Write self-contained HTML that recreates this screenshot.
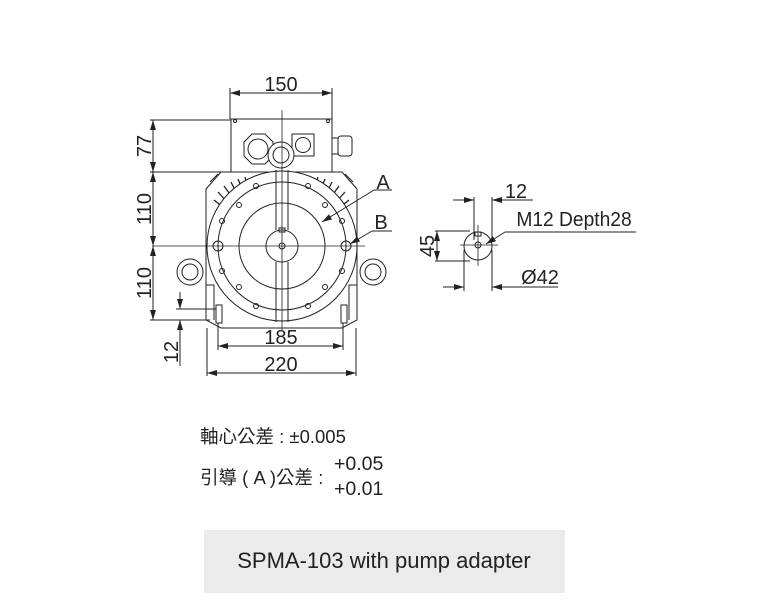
<!DOCTYPE html>
<html><head><meta charset="utf-8"><style>
html,body{margin:0;padding:0;background:#fff;width:768px;height:611px;overflow:hidden}
svg{display:block}
text{font-family:"Liberation Sans","Noto Sans CJK TC",sans-serif;fill:#222}
</style></head><body>
<svg width="768" height="611" viewBox="0 0 768 611" xmlns="http://www.w3.org/2000/svg">
<defs>
<marker id="ar" viewBox="0 0 10 6" refX="10" refY="3" markerWidth="10" markerHeight="6" orient="auto-start-reverse" markerUnits="userSpaceOnUse"><path d="M0,0 L10,3 L0,6 z" fill="#222"/></marker>
</defs>
<g stroke="#222" stroke-width="1" fill="none">
<rect x="231" y="119" width="101" height="53"/>
<circle cx="235" cy="121" r="1.5"/><circle cx="328" cy="121" r="1.5"/>
<polygon points="252,134 265,134 273,142 273,156 265,164 252,164 244,156 244,142" fill="#fff"/>
<circle cx="258" cy="149" r="10"/>
<rect x="292" y="134" width="22" height="22"/>
<circle cx="303" cy="145" r="7.5"/>
<rect x="332" y="138" width="6" height="16"/><rect x="338" y="136" width="14" height="20" rx="3"/>
<path d="M221,172 L342,172 L357,189 L357,320 L342,328 L221,328 L206,320 L206,189 Z" fill="#fff"/>
<path d="M210,182 L218,174 M353,182 L345,174"/>
<g stroke-width="1.3">
<path d="M214,200 l10,8 M218,192 l9,10 M224,186 l8,11 M231,182 l6,12 M238,179 l5,12 M245,177 l3,11"/>
<path d="M349,200 l-10,8 M345,192 l-9,10 M339,186 l-8,11 M332,182 l-6,12 M325,179 l-5,12 M318,177 l-3,11"/>
</g>
<path d="M206,285 L214,285 L214,320 M357,285 L349,285 L349,320"/>
<rect x="216" y="305" width="6" height="18"/><rect x="341" y="305" width="6" height="18"/>
<circle cx="190" cy="272" r="13" fill="#fff"/><circle cx="190" cy="272" r="8"/>
<circle cx="373" cy="272" r="13" fill="#fff"/><circle cx="373" cy="272" r="8"/>
<circle cx="282" cy="246" r="75" fill="#fff"/>
<circle cx="282" cy="246" r="64"/>
<circle cx="282" cy="246" r="43"/>
<circle cx="282" cy="246" r="16"/>
<circle cx="282" cy="246" r="3"/>
<rect x="279" y="228" width="6" height="4"/>
<circle cx="218" cy="246" r="5"/><circle cx="346" cy="246" r="5"/>
<g>
<circle cx="256" cy="186" r="2.5"/><circle cx="308" cy="186" r="2.5"/>
<circle cx="239" cy="205" r="2.5"/><circle cx="325" cy="205" r="2.5"/>
<circle cx="222" cy="221" r="2.5"/><circle cx="342" cy="221" r="2.5"/>
<circle cx="222" cy="271" r="2.5"/><circle cx="342" cy="271" r="2.5"/>
<circle cx="239" cy="287" r="2.5"/><circle cx="325" cy="287" r="2.5"/>
<circle cx="256" cy="306" r="2.5"/><circle cx="308" cy="306" r="2.5"/>
</g>
<path d="M276,170 L276,230 M288,170 L288,230 M276,262 L276,322 M288,262 L288,322"/>
<circle cx="281" cy="155" r="13" fill="#fff"/><circle cx="281" cy="155" r="8"/>
<path d="M282,110 L282,330 M153,246 L365,246" stroke-width="0.8"/>
<path d="M230,119 L230,88 M332,119 L332,88"/>
<line x1="230" y1="93" x2="332" y2="93" marker-start="url(#ar)" marker-end="url(#ar)"/>
<path d="M150,120 L231,120 M150,172 L222,172 M150,320 L210,320"/>
<line x1="153" y1="120" x2="153" y2="172" marker-start="url(#ar)" marker-end="url(#ar)"/>
<line x1="153" y1="172" x2="153" y2="246" marker-start="url(#ar)" marker-end="url(#ar)"/>
<line x1="153" y1="246" x2="153" y2="320" marker-start="url(#ar)" marker-end="url(#ar)"/>
<path d="M176,309 L216,309"/>
<line x1="180" y1="292" x2="180" y2="309" marker-end="url(#ar)"/>
<line x1="180" y1="366" x2="180" y2="320" marker-end="url(#ar)"/>
<path d="M218,323 L218,350 M343,323 L343,350 M207,328 L207,376 M356,328 L356,376"/>
<line x1="218" y1="346" x2="343" y2="346" marker-start="url(#ar)" marker-end="url(#ar)"/>
<line x1="207" y1="373" x2="356" y2="373" marker-start="url(#ar)" marker-end="url(#ar)"/>
<path d="M392,190 L374,190"/><line x1="374" y1="190" x2="322" y2="222" marker-end="url(#ar)"/>
<path d="M392,231 L372,231"/><line x1="372" y1="231" x2="350" y2="244" marker-end="url(#ar)"/>
<circle cx="478" cy="246" r="14"/>
<circle cx="478" cy="245" r="3"/>
<rect x="475" y="232" width="6" height="4"/>
<path d="M460,245 L498,245 M478,225 L478,266" stroke-width="0.8"/>
<path d="M474,197 L474,240 M492,197 L492,240"/>
<line x1="453" y1="200" x2="474" y2="200" marker-end="url(#ar)"/>
<line x1="513" y1="200" x2="492" y2="200" marker-end="url(#ar)"/>
<path d="M492,200 L533,200"/>
<path d="M435,231 L470,231 M435,261 L470,261"/>
<line x1="437" y1="231" x2="437" y2="261" marker-start="url(#ar)" marker-end="url(#ar)"/>
<path d="M464,250 L464,291 M492,250 L492,291"/>
<line x1="443" y1="287" x2="464" y2="287" marker-end="url(#ar)"/>
<line x1="513" y1="287" x2="492" y2="287" marker-end="url(#ar)"/>
<path d="M492,287 L558,287"/>
<path d="M636,232 L505,232"/><line x1="505" y1="232" x2="486" y2="244" marker-end="url(#ar)"/>
</g>
<g font-size="20">
<text x="281" y="91" text-anchor="middle">150</text>
<text x="281" y="344" text-anchor="middle">185</text>
<text x="281" y="371" text-anchor="middle">220</text>
<text x="383" y="189" text-anchor="middle">A</text>
<text x="381" y="229" text-anchor="middle">B</text>
<text transform="translate(151,146) rotate(-90)" text-anchor="middle">77</text>
<text transform="translate(151,209) rotate(-90)" text-anchor="middle">110</text>
<text transform="translate(151,283) rotate(-90)" text-anchor="middle">110</text>
<text transform="translate(178,352) rotate(-90)" text-anchor="middle">12</text>
<text x="516" y="198" text-anchor="middle">12</text>
<text transform="translate(574,226) scale(0.96,1)" text-anchor="middle">M12 Depth28</text>
<text transform="translate(434,246) rotate(-90)" text-anchor="middle">45</text>
<text x="540" y="284" text-anchor="middle">Ø42</text>
</g>
<g font-size="18.5">
<text x="200" y="443">軸心公差 : ±0.005</text>
<text x="200" y="484">引導 ( A )公差 :</text>
<text x="334" y="470" font-size="19.5">+0.05</text>
<text x="334" y="495" font-size="19.5">+0.01</text>
</g>
<rect x="204" y="530" width="361" height="63" fill="#ebebeb"/>
<text x="384" y="568" font-size="22" text-anchor="middle" fill="#333">SPMA-103 with pump adapter</text>
</svg>
</body></html>
